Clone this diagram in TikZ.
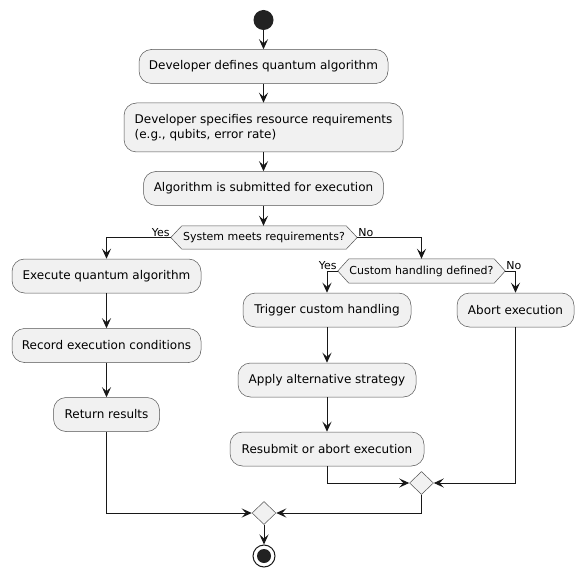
\documentclass[tikz,border=0pt]{standalone}
\usepackage{fontspec}
\setmainfont{DejaVu Sans}
\usetikzlibrary{arrows.meta,shapes.geometric}
\pgfdeclarelayer{background}
\pgfsetlayers{background,main}
\definecolor{boxfill}{HTML}{F1F1F1}
\definecolor{ink}{HTML}{181818}
\definecolor{dot}{HTML}{222222}
\tikzset{
  act/.style={draw=ink!75, line width=0.5pt, fill=boxfill, rounded corners=12.5pt,
    minimum height=34pt, inner sep=0pt, font=\fontsize{12}{15}\selectfont, text=black},
  hexnode/.style={inner sep=0pt, minimum height=23pt, font=\fontsize{11}{13}\selectfont},
  hexbg/.style={draw=ink!75, line width=0.5pt, fill=boxfill},
  merge/.style={diamond, draw=ink!75, line width=0.5pt, fill=boxfill, inner sep=0pt,
    minimum width=24pt, minimum height=23pt},
  flow/.style={draw=ink, line width=1pt, -{Stealth[length=10pt,width=9pt,inset=4pt]}},
  lbl/.style={font=\fontsize{11}{13}\selectfont, inner sep=1pt},
}
\newcommand{\hexagonof}[1]{%
  \begin{pgfonlayer}{background}
  \path[hexbg] (#1.west) -- ([xshift=11pt]#1.north west) -- ([xshift=-11pt]#1.north east)
    -- (#1.east) -- ([xshift=-11pt]#1.south east) -- ([xshift=11pt]#1.south west) -- cycle;
  \end{pgfonlayer}}
\begin{document}
\begin{tikzpicture}[x=1pt,y=-1pt]
\useasboundingbox (0,0) rectangle (583,577);
% start
\node[circle, fill=dot, minimum size=20pt, inner sep=0pt] (start) at (263.5,20) {};
\node[act, minimum width=249pt] (b1) at (263.5,66.5) {Developer defines quantum algorithm};
\node[act, minimum width=279pt, minimum height=49pt, align=left] (b2) at (263.5,127.5)
  {Developer specifies resource requirements\\(e.g., qubits, error rate)};
\node[act, minimum width=240pt] (b3) at (263.5,188.5) {Algorithm is submitted for execution};
\node[hexnode, minimum width=186pt] (d1) at (264,237.5) {System meets requirements?};
\hexagonof{d1}
% left branch
\node[act, minimum width=189pt] (e1) at (106.5,276) {Execute quantum algorithm};
\node[act, minimum width=189pt] (e2) at (106.5,345.5) {Record execution conditions};
\node[act, minimum width=106pt] (e3) at (106.5,414.5) {Return results};
% right branch
\node[hexnode, minimum width=167pt, minimum height=24pt] (d2) at (421.5,271) {Custom handling defined?};
\hexagonof{d2}
\node[act, minimum width=168pt] (t1) at (327,310) {Trigger custom handling};
\node[act, minimum width=178pt] (t2) at (327,380) {Apply alternative strategy};
\node[act, minimum width=194pt] (t3) at (327,449) {Resubmit or abort execution};
\node[act, minimum width=117pt] (a1) at (515.5,310) {Abort execution};
\node[merge] (m2) at (421.5,483) {};
\node[merge] (m1) at (264,513) {};
% end
\node[circle, draw=ink, line width=1pt, fill=white, minimum size=22pt, inner sep=0pt] (end) at (264,556) {};
\node[circle, fill=dot, minimum size=14pt, inner sep=0pt] (endin) at (end.center) {};
% connectors
\draw[flow] (start) -- (b1);
\draw[flow] (b1) -- (b2);
\draw[flow] (b2) -- (b3);
\draw[flow] (b3.south) -- (b3.south |- d1.north);
\draw[flow] (d1.west) -| (e1.north);
\node[lbl, anchor=south east] (yes1) at (d1.west) {Yes};
\draw[flow] (d1.east) -| (d2.north);
\node[lbl, anchor=south west] (no1) at (d1.east) {No};
\draw[flow] (e1) -- (e2);
\draw[flow] (e2) -- (e3);
\draw[flow] (d2.west) -| (t1.north);
\node[lbl, anchor=south east] (yes2) at (d2.west) {Yes};
\draw[flow] (d2.east) -| (a1.north);
\node[lbl, anchor=south west] (no2) at (d2.east) {No};
\draw[flow] (t1) -- (t2);
\draw[flow] (t2) -- (t3);
\draw[flow] (t3.south) |- (m2.west);
\draw[flow] (a1.south) |- (m2.east);
\draw[flow] (e3.south) |- (m1.west);
\draw[flow] (m2.south) |- (m1.east);
\draw[flow] (m1) -- (end);
\end{tikzpicture}
\end{document}
